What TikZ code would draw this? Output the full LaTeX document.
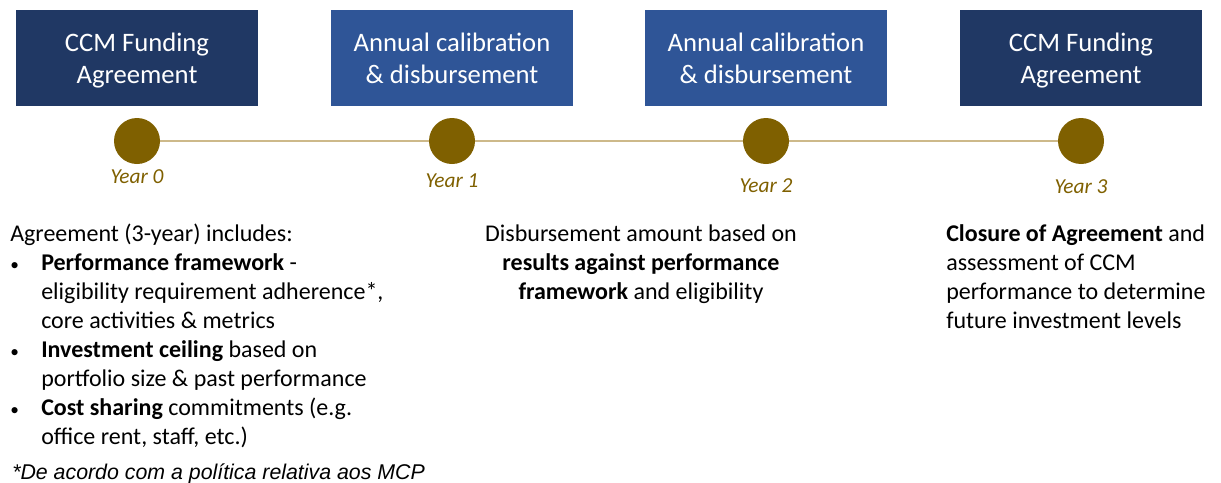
\documentclass[tikz,border=0pt]{standalone}
\usepackage{fontspec}
\setmainfont{Carlito}
\newfontfamily\notefont{Liberation Sans}
\usepackage{tikz}
\usetikzlibrary{positioning}
\definecolor{navy}{HTML}{203864}
\definecolor{midblue}{HTML}{2F5597}
\definecolor{gold}{HTML}{7F6000}
\definecolor{tanline}{HTML}{CDB98A}
\newcommand{\boxstrut}{\rule{0pt}{21.3pt}}
\newcommand{\blt}{\makebox[23.25pt][l]{\fontsize{13}{13}\selectfont\textbullet}}

\begin{document}
\begin{tikzpicture}[x=0.75pt, y=-0.75pt,
    stage/.style={fill=#1, text=white, inner sep=0pt, minimum width=182pt,
      minimum height=72pt, align=center, font=\fontsize{20}{24}\selectfont},
    milestone/.style={circle, fill=gold, inner sep=0pt, minimum size=34.5pt},
    yearlbl/.style={text=gold, font=\fontsize{16}{19}\selectfont\itshape},
    body/.style={inner sep=0pt, font=\fontsize{18}{21.75}\selectfont}]
  \useasboundingbox (0,0) rectangle (1221,482);
  % boxes, milestones and year labels
  \foreach \n/\c/\x/\yy/\t in {0/navy/137/177/{CCM Funding\boxstrut\\Agreement\strut},
      1/midblue/452/181/{Annual calibration\boxstrut\\\& disbursement\strut},
      2/midblue/766/186/{Annual calibration\boxstrut\\\& disbursement\strut},
      3/navy/1081/187/{CCM Funding\boxstrut\\Agreement\strut}} {
    \node[stage=\c] (box\n) at (\x,58) {\t};
    \node[milestone] (dot\n) at (\x,141) {};
    \node[yearlbl] (year\n) at (\x,\yy) {Year \n};
  }
  % timeline
  \draw[tanline, line width=1.1pt] (dot0) -- (dot1) -- (dot2) -- (dot3);
  % descriptions (anchored on the last line)
  \node[body, anchor=base west, align=left] (incl) at (10,444)
    {Agreement (3-year) includes:\\
     \blt\textbf{Performance framework} -\\
     \hspace*{23.25pt}eligibility requirement adherence*,\\
     \hspace*{23.25pt}core activities \& metrics\\
     \blt\textbf{Investment ceiling} based on\\
     \hspace*{23.25pt}portfolio size \& past performance\\
     \blt\textbf{Cost sharing} commitments (e.g.\\
     \hspace*{23.25pt}office rent, staff, etc.)};
  \node[body, anchor=base, align=center] (disb) at (641,299)
    {Disbursement amount based on\\
     \textbf{results against performance}\\
     \textbf{framework} and eligibility};
  \node[body, anchor=base west, align=left] (close) at (946,328)
    {\textbf{Closure of Agreement} and\\
     assessment of CCM\\
     performance to determine\\
     future investment levels};
  \node[inner sep=0pt, anchor=base west, font=\notefont\itshape\fontsize{16}{19}\selectfont]
    (note) at (12,479) {*De acordo com a política relativa aos MCP};
\end{tikzpicture}
\end{document}
